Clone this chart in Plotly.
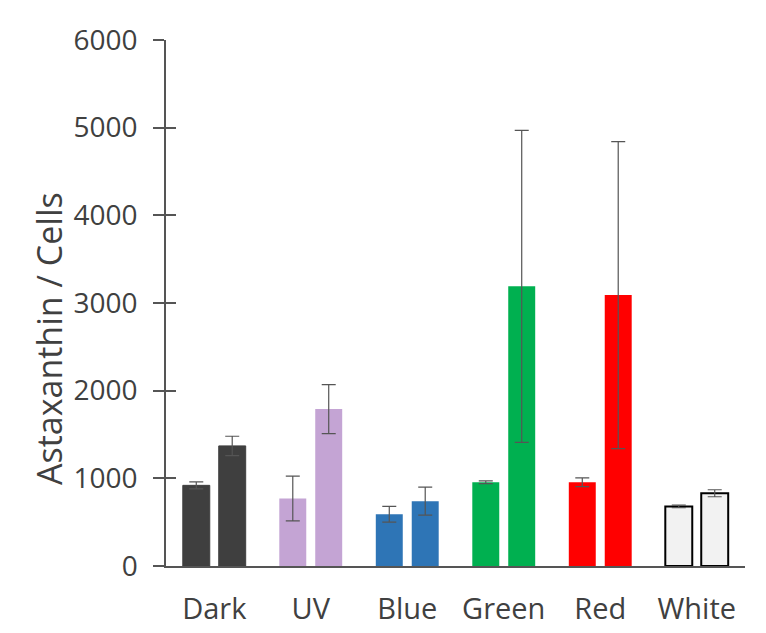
import plotly.graph_objects as go

categories = ["Dark", "UV", "Blue", "Green", "Red", "White"]
series1 = [920, 770, 590, 955, 955, 680]
err1 = [40, 255, 90, 15, 50, 15]
series2 = [1370, 1790, 740, 3190, 3090, 830]
err2 = [110, 280, 160, 1780, 1750, 40]
colors = ["#3f3f3f", "#c4a4d4", "#2e75b6", "#00b050", "#ff0000", "#f2f2f2"]
outline = ["#3f3f3f", "#c4a4d4", "#2e75b6", "#00b050", "#ff0000", "#000000"]
outline_w = [1, 0, 0, 0, 0, 2]
y_ticks = [0, 1000, 2000, 3000, 4000, 5000, 6000]

FONT = "Open Sans"
TXT = "#404040"

W, H = 758, 625
L, R, T, B = 158, 21, 32, 67
pw, ph = W - L - R, H - T - B

fig = go.Figure()
for vals, errs in [(series1, err1), (series2, err2)]:
    fig.add_trace(go.Bar(
        x=categories, y=vals,
        marker=dict(color=colors, line=dict(color=outline, width=outline_w)),
        error_y=dict(type="data", array=errs, visible=True, color="#555555",
                     thickness=1.2, width=7),
        showlegend=False,
    ))

fig.add_trace(go.Scatter(x=categories, y=[None]*len(categories), yaxis="y2",
                         showlegend=False, hoverinfo="skip"))

fig.update_layout(
    width=W, height=H,
    margin=dict(l=L, r=R, t=T, b=B, autoexpand=False),
    paper_bgcolor="white", plot_bgcolor="white",
    barmode="group", bargap=0.255, bargroupgap=0.25,
    font=dict(family=FONT, color=TXT),
    xaxis=dict(range=[-0.5, 5.5], showline=True, linecolor="#555555", linewidth=1.5,
               ticks="", showgrid=False, zeroline=False, automargin=False,
               tickfont=dict(size=29, family=FONT, color=TXT),
               ticklabelstandoff=16),
    yaxis=dict(range=[0, 6000], tickvals=y_ticks, showline=True, automargin=False,
               linecolor="#555555", linewidth=1.5, ticks="outside", ticklen=11,
               tickcolor="#555555", tickwidth=1.5, showgrid=False, zeroline=False,
               tickfont=dict(size=28, family=FONT, color=TXT),
               ticklabelstandoff=10),
    yaxis2=dict(range=[0, 6000], tickvals=y_ticks, overlaying="y", side="left",
                ticks="inside", ticklen=10, tickcolor="#555555", tickwidth=1.5,
                automargin=False,
                showticklabels=False, showgrid=False, zeroline=False, showline=False),
    annotations=[dict(text="Astaxanthin / Cells", xref="paper", yref="paper",
                      x=(41 - L) / pw, y=(H - B - 331) / ph, xanchor="center",
                      yanchor="middle", textangle=-90, showarrow=False,
                      font=dict(size=34, family=FONT, color=TXT))],
)

fig.write_html("out.html")
